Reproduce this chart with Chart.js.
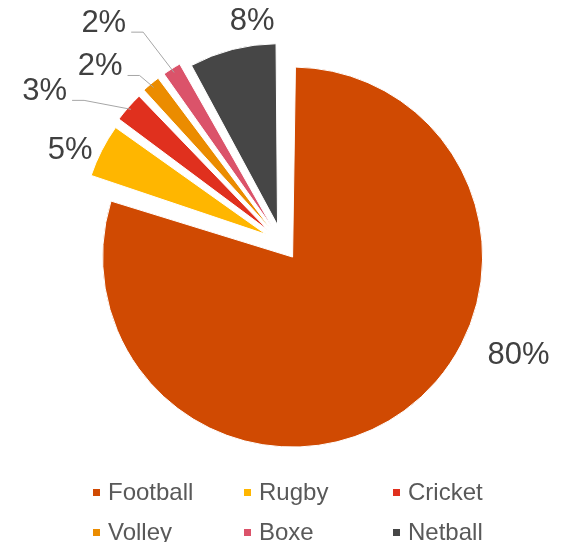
<!DOCTYPE html>
<html>
<head>
<meta charset="utf-8">
<script src="https://cdn.jsdelivr.net/npm/chart.js@4.4.1/dist/chart.umd.min.js"></script>
<style>
  html, body { margin: 0; padding: 0; background: #fff; }
  #marco { position: relative; width: 564px; height: 542px; overflow: hidden; }
  #grafico { position: absolute; left: 0; top: 0; }
  #leyenda {
    position: absolute; left: 93px; top: 472px;
    display: grid; grid-template-columns: 151px 149px auto; grid-auto-rows: 40px;
    font: 24px "Liberation Sans", Arial, sans-serif; color: #595959;
  }
  .item { display: flex; align-items: center; white-space: nowrap; }
  .marca { width: 7px; height: 7px; margin-right: 8px; flex: none; }
</style>
</head>
<body>
<div id="marco">
  <canvas id="grafico" width="564" height="542"></canvas>
  <div id="leyenda"></div>
</div>
<script>
const deportes = ["Football", "Rugby", "Cricket", "Volley", "Boxe", "Netball"];
const porcentajes = [80, 5, 3, 2, 2, 8];
const colores = ["#D04A02", "#FFB600", "#E0301E", "#EB8C00", "#DB536A", "#464646"];

// ubicacion de cada etiqueta respecto del centro, en radios
const posicionEtiquetas = [
  [1.245, 0.584],
  [-1.115, -0.495],
  [-1.249, -0.806],
  [-0.957, -0.937],
  [-0.938, -1.165],
  [-0.157, -1.178],
];
const conGuia = [false, false, true, true, true, false];

const DESPLAZAMIENTO = 72;
const RADIO = 172;

const etiquetasPlugin = {
  id: "etiquetas",
  afterDatasetsDraw(chart) {
    const meta = chart.getDatasetMeta(0);
    const ctx = chart.ctx;
    const cx = meta.data[0].x;
    const cy = meta.data[0].y;
    const radioRef = meta.controller.outerRadius + DESPLAZAMIENTO / 4;

    ctx.save();
    ctx.font = "31px 'Liberation Sans', Arial, sans-serif";
    ctx.textAlign = "center";
    ctx.textBaseline = "alphabetic";

    meta.data.forEach((arco, i) => {
      const [fx, fy] = posicionEtiquetas[i];
      const x = cx + fx * radioRef;
      const y = cy + fy * radioRef;
      const texto = `${porcentajes[i]}%`;
      ctx.fillStyle = "#404040";
      ctx.fillText(texto, x, y + 11);

      if (!conGuia[i]) return;
      const ancho = ctx.measureText(texto).width;
      const inicioX = x + ancho / 2 + 5;
      const inicioY = y + 11;
      const medio = (arco.startAngle + arco.endAngle) / 2;
      const finX = cx + Math.cos(medio) * radioRef * 1.06;
      const finY = cy + Math.sin(medio) * radioRef * 1.06;
      ctx.strokeStyle = "#A6A6A6";
      ctx.lineWidth = 1;
      ctx.beginPath();
      ctx.moveTo(inicioX, inicioY);
      ctx.lineTo(inicioX + 12, inicioY);
      ctx.lineTo(finX, finY);
      ctx.stroke();
    });
    ctx.restore();
  },
};

new Chart(document.getElementById("grafico"), {
  type: "pie",
  data: {
    labels: deportes,
    datasets: [
      {
        data: porcentajes,
        backgroundColor: colores,
        borderColor: "#ffffff",
        borderWidth: 1,
        offset: DESPLAZAMIENTO,
        radius: RADIO,
      },
    ],
  },
  options: {
    responsive: false,
    animation: false,
    layout: { padding: { top: 0, right: 0, bottom: 57, left: 0 } },
    plugins: { legend: { display: false }, tooltip: { enabled: false } },
  },
  plugins: [etiquetasPlugin],
});

const leyenda = document.getElementById("leyenda");
deportes.forEach((nombre, i) => {
  const item = document.createElement("div");
  item.className = "item";
  item.innerHTML = `<span class="marca" style="background:${colores[i]}"></span>${nombre}`;
  leyenda.appendChild(item);
});
</script>
</body>
</html>
